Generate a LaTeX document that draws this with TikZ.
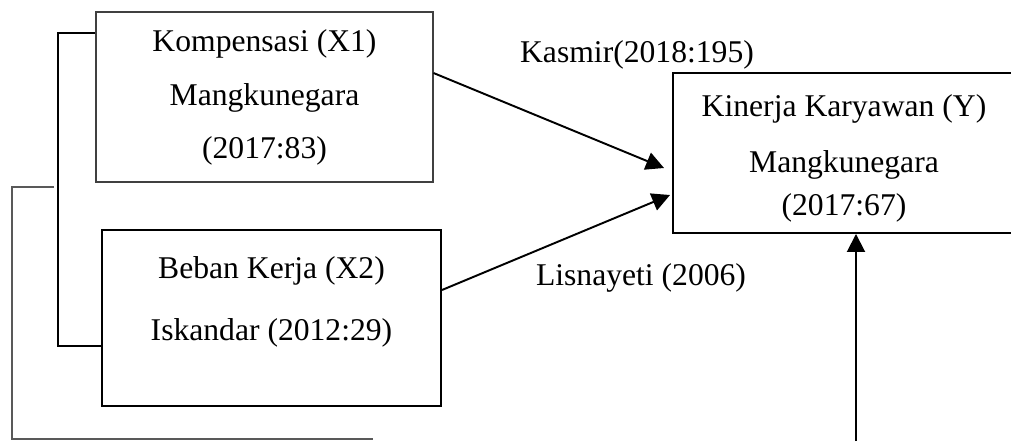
\documentclass[tikz,border=0pt]{standalone}
\usepackage{fontspec}
\setmainfont{Liberation Serif}
\usepackage{tikz}
\usetikzlibrary{arrows.meta}
\tikzset{
  varbox/.style={
    draw=black!75,line width=0.6pt,
    align=center,inner sep=0pt,
    font=\fontsize{18}{22}\selectfont
  },
  mainbox/.style={
    draw=black,line width=1.1pt,
    align=center,inner sep=0pt,
    font=\fontsize{18}{22}\selectfont
  },
  reflabel/.style={font=\fontsize{18}{22}\selectfont,anchor=base,inner sep=0pt},
  effect/.style={line width=1.1pt,-{Triangle[length=0.36cm,width=0.36cm]}},
  bracket/.style={line width=0.7pt,draw=black},
  bracketgray/.style={line width=0.7pt,draw=black!65},
}
\begin{document}
\begin{tikzpicture}
  \useasboundingbox (0,0) rectangle (20.22,-8.82);
  \clip (0,0) rectangle (20.22,-8.82);
  \node[varbox, minimum width=6.74cm, minimum height=3.40cm] (komp) at (5.29,-1.94) {Kompensasi (X1)\\[8.5pt]Mangkunegara\\[8.5pt](2017:83)\\[-19pt]\mbox{}};
  \node[mainbox, minimum width=6.78cm, minimum height=3.52cm] (beban) at (5.43,-6.36) {Beban Kerja (X2)\\[12.9pt]Iskandar (2012:29)\\\mbox{}};
  \node[mainbox, minimum width=6.84cm, minimum height=3.20cm] (kinerja) at (16.88,-3.06) {\mbox{}\\[-3.3pt]Kinerja Karyawan (Y)\\[9.8pt]Mangkunegara\\[2.2pt](2017:67)};
  \node[reflabel] (kasmir) at (12.74,-1.24) {Kasmir(2018:195)};
  \node[reflabel] (lisna) at (12.82,-5.70) {Lisnayeti (2006)};
  \coordinate (ybase) at (17.12,-8.82);
  \coordinate (brtop) at (1.08,-3.74);
  \coordinate (brend) at (7.46,-8.78);
  \draw[effect] ([yshift=0.48cm]komp.east) -- ([xshift=-0.16cm,yshift=-0.3cm]kinerja.west);
  \draw[effect] ([yshift=0.56cm]beban.east) -- ([xshift=-0.04cm,yshift=-0.84cm]kinerja.west);
  \draw[effect] (ybase) -- (kinerja.south -| ybase);
  % left brackets
  \draw[bracket] ([yshift=1.28cm]komp.west) -| ([xshift=-0.86cm,yshift=-0.56cm]beban.west) -- ([yshift=-0.56cm]beban.west);
  \draw[bracketgray] (brtop) -- (0.24,-3.74) |- (brend);
\end{tikzpicture}
\end{document}
